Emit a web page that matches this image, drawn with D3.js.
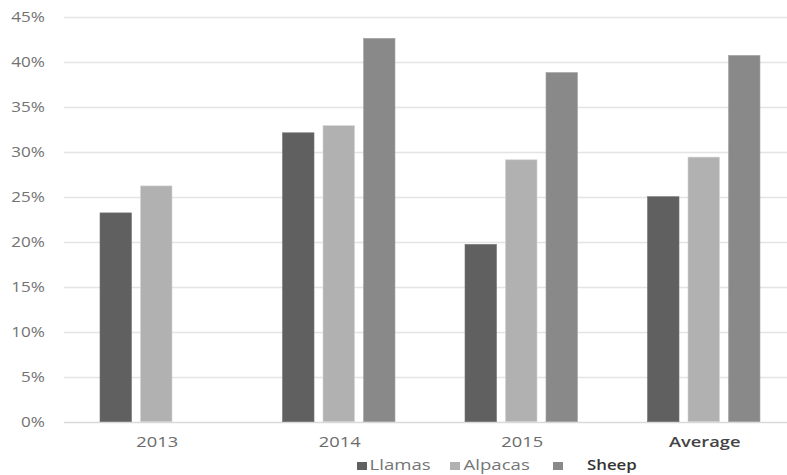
<!DOCTYPE html>
<html>
<head>
<meta charset="utf-8">
<script src="https://cdn.jsdelivr.net/npm/d3@7"></script>
<style>
  html, body { margin: 0; padding: 0; background: #fff; }
  svg { display: block; }
  text { font-family: "Open Sans", "Noto Sans", sans-serif; }
</style>
</head>
<body>
<svg id="chart" width="787" height="475"></svg>
<script>
const categories = ["2013", "2014", "2015", "Average"];
const seriesNames = ["Llamas", "Alpacas", "Sheep"];
const llamas  = [0.232, 0.321, 0.197, 0.250];
const alpacas = [0.262, 0.329, 0.291, 0.294];
const sheep   = [null, 0.426, 0.388, 0.407];
const yTicks = [0, 0.05, 0.10, 0.15, 0.20, 0.25, 0.30, 0.35, 0.40, 0.45];

const seriesValues = [llamas, alpacas, sheep];
const colors = ["#606060", "#b1b1b1", "#898989"];

const svg = d3.select("#chart");
const W = 787, H = 475;
const stretch = 1.22;

const x = d3.scaleBand().domain(categories).range([65, 795]).paddingInner(0).paddingOuter(0);
const y = d3.scaleLinear().domain([0, 0.45]).range([421.7, 16.7]);

// gridlines
svg.append("g").selectAll("line").data(yTicks).join("line")
  .attr("x1", 64).attr("x2", W)
  .attr("y1", d => Math.round(y(d)) + 0.5).attr("y2", d => Math.round(y(d)) + 0.5)
  .attr("stroke", d => d === 0 ? "#d9d9d9" : "#e4e4e4")
  .attr("stroke-width", 1.6);

// y tick labels
const fmt = d3.format(".0%");
svg.append("g").selectAll("g").data(yTicks).join("g")
  .attr("transform", d => `translate(45,${y(d) + 5}) scale(${stretch},1)`)
  .append("text")
  .attr("text-anchor", "end")
  .attr("font-size", 14)
  .attr("fill", "#737373")
  .text(d => fmt(d));

// bars
const inner = d3.scaleBand().domain(d3.range(3)).range([-56.25, 56.25]).paddingInner(0.222).paddingOuter(0);
categories.forEach((c, ci) => {
  const cx = x(c) + x.bandwidth() / 2;
  seriesValues.forEach((vals, si) => {
    const v = vals[ci];
    if (v == null) return;
    svg.append("rect")
      .attr("x", cx + inner(si))
      .attr("y", y(v))
      .attr("width", inner.bandwidth())
      .attr("height", y(0) - y(v))
      .attr("fill", colors[si])
      .attr("stroke", d3.color(colors[si]).brighter(0.5))
      .attr("stroke-width", 0.6);
  });
});

// x labels
svg.append("g").selectAll("g").data(categories).join("g")
  .attr("transform", d => `translate(${x(d) + x.bandwidth() / 2 + 1},446.5) scale(${stretch},1)`)
  .append("text")
  .attr("text-anchor", "middle")
  .attr("font-size", 15)
  .attr("font-weight", d => d === "Average" ? 600 : 400)
  .attr("fill", d => d === "Average" ? "#444" : "#6b6b6b")
  .text(d => d);

// legend
const legendItems = [
  { name: seriesNames[0], sx: 357, tx: 369.5, bold: false },
  { name: seriesNames[1], sx: 450, tx: 463.5, bold: false },
  { name: seriesNames[2], sx: 553, tx: 587, bold: true }
];
const lg = svg.append("g");
legendItems.forEach((it, i) => {
  lg.append("rect").attr("x", it.sx).attr("y", 462).attr("width", 10).attr("height", 8).attr("fill", colors[i]);
  lg.append("g").attr("transform", `translate(${it.tx},470) scale(${it.bold ? 1.2 : 1.33},1)`)
    .append("text")
    .attr("font-size", 14)
    .attr("font-weight", it.bold ? 600 : 400)
    .attr("fill", it.bold ? "#333" : "#757575")
    .text(it.name);
});
</script>
</body>
</html>
